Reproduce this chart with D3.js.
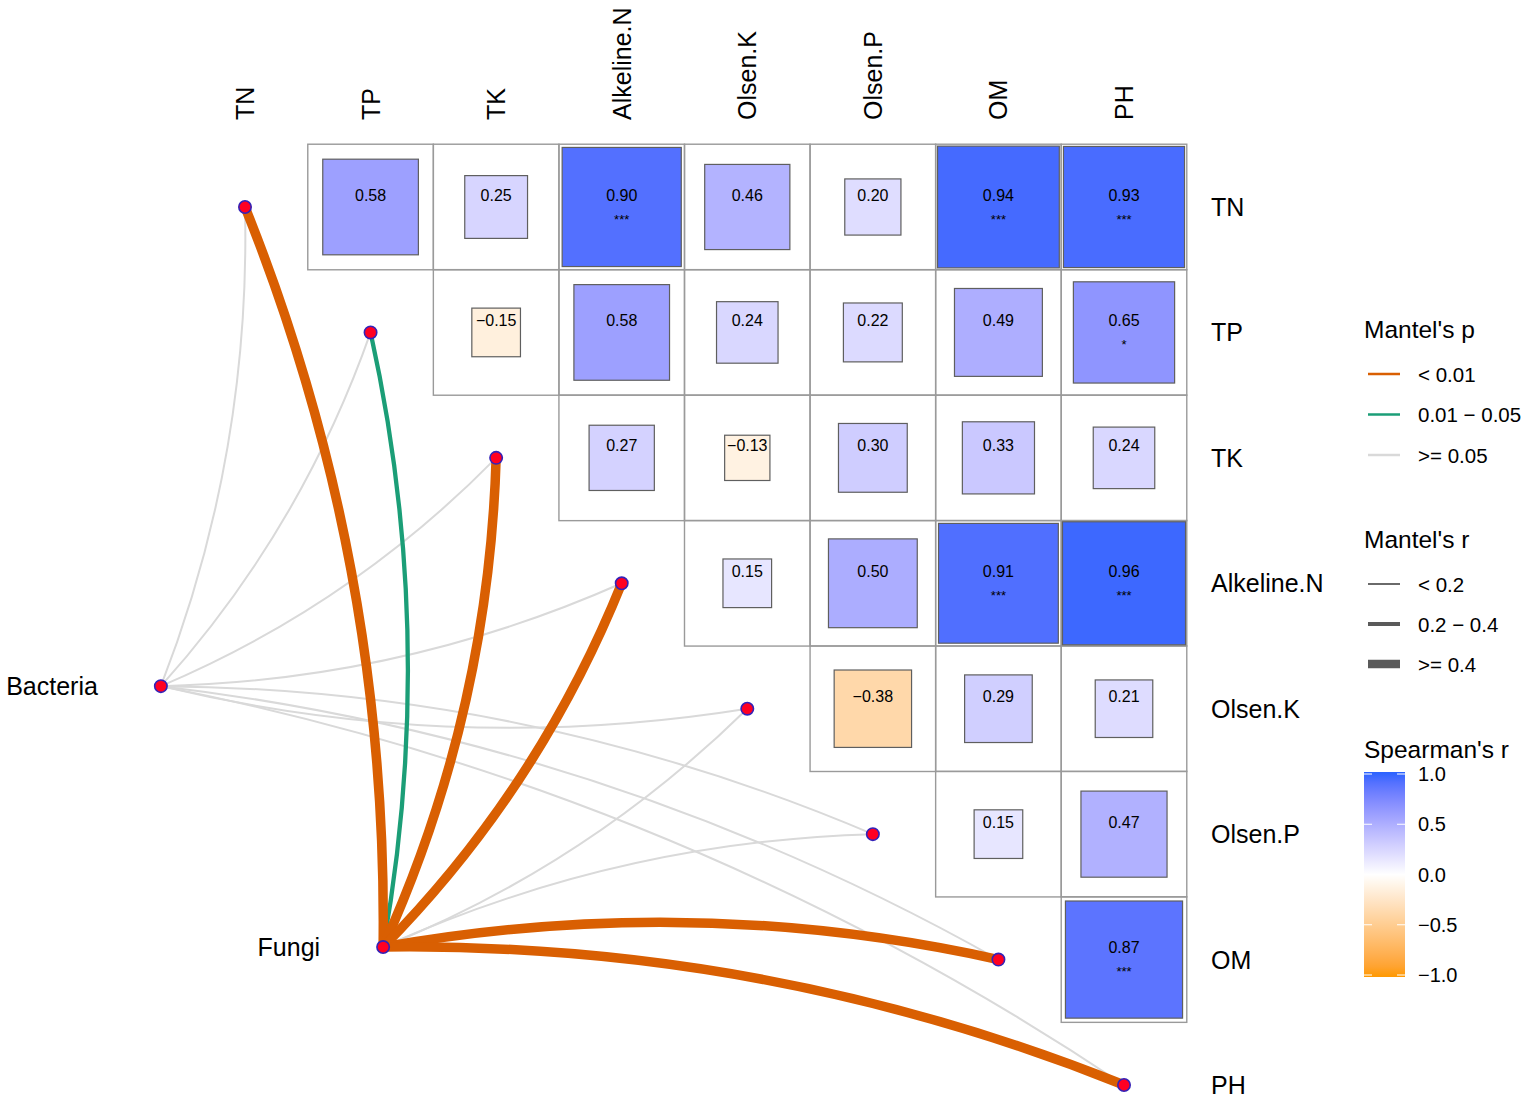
<!DOCTYPE html>
<html>
<head>
<meta charset="utf-8">
<script src="https://cdn.jsdelivr.net/npm/d3@7"></script>
<style>
  body { margin: 0; background: #fff; }
  text { font-family: "Liberation Sans", Arial, sans-serif; fill: #000; }
</style>
</head>
<body>
<svg></svg>
<script>
const width = 1536, height = 1106
var svg = d3.select("svg")
    .attr("width", width)
    .attr("height", height);

// environmental variables (matrix rows / columns)
const env = ["TN", "TP", "TK", "Alkeline.N", "Olsen.K", "Olsen.P", "OM", "PH"];

// Spearman's r, upper triangle, row i holds columns i+1 .. 7
const corrR = [
    [0.58, 0.25, 0.90, 0.46, 0.20, 0.94, 0.93],
    [-0.15, 0.58, 0.24, 0.22, 0.49, 0.65],
    [0.27, -0.13, 0.30, 0.33, 0.24],
    [0.15, 0.50, 0.91, 0.96],
    [-0.38, 0.29, 0.21],
    [0.15, 0.47],
    [0.87]
];
const corrSig = [
    ["", "", "***", "", "", "***", "***"],
    ["", "", "", "", "", "*"],
    ["", "", "", "", ""],
    ["", "", "***", "***"],
    ["", "", ""],
    ["", ""],
    ["***"]
];

// species groups, placed in grid units (column, row)
const specNames = ["Bacteria", "Fungi"];
const specCol = [-0.67, 1.10];
const specRow = [3.82, 5.90];

// Mantel test classes for each group vs env
const mantelP = [
    [">= 0.05", ">= 0.05", ">= 0.05", ">= 0.05", ">= 0.05", ">= 0.05", ">= 0.05", ">= 0.05"],
    ["< 0.01", "0.01 - 0.05", "< 0.01", "< 0.01", ">= 0.05", ">= 0.05", "< 0.01", "< 0.01"]
];
const mantelR = [
    ["< 0.2", "< 0.2", "< 0.2", "< 0.2", "< 0.2", "< 0.2", "< 0.2", "< 0.2"],
    [">= 0.4", "0.2 - 0.4", ">= 0.4", ">= 0.4", "< 0.2", "< 0.2", ">= 0.4", ">= 0.4"]
];

const pLevels = ["< 0.01", "0.01 - 0.05", ">= 0.05"];
const rLevels = ["< 0.2", "0.2 - 0.4", ">= 0.4"];
const barTicks = [1.0, 0.5, 0.0, -0.5, -1.0];

const pColor = d3.scaleOrdinal().domain(pLevels).range(["#D95F02", "#1B9E77", "#D9D9D9"]);
const rWidth = d3.scaleOrdinal().domain(rLevels).range([2, 4.3, 9.5]);
const fill = d3.scaleLinear().domain([-1, 0, 1])
    .range(["#FF9900", "#FFFFFF", "#2962FF"])
    .interpolate(d3.interpolateLab);

const x = d3.scaleLinear().domain([0, 7]).range([245, 1124]);
const y = d3.scaleLinear().domain([0, 7]).range([207, 1085]);
const cell = x(1) - x(0);
const minus = s => s.replace("-", "\u2212");

// links first (grey under coloured)
const links = [];
specNames.forEach((s, i) => {
    env.forEach((e, j) => {
        links.push({
            x1: x(specCol[i]), y1: y(specRow[i]),
            x2: x(j), y2: y(j),
            p: mantelP[i][j], r: mantelR[i][j],
            k: j <= 4 ? 0.1 : -0.1
        });
    });
});
const order = {">= 0.05": 0, "0.01 - 0.05": 1, "< 0.01": 2};
links.sort((a, b) => order[a.p] - order[b.p]);

svg.append("g").selectAll("path")
    .data(links)
    .enter()
    .append("path")
    .attr("d", d => {
        const dx = d.x2 - d.x1, dy = d.y2 - d.y1;
        const cx = (d.x1 + d.x2) / 2 - d.k * dy;
        const cy = (d.y1 + d.y2) / 2 + d.k * dx;
        return `M${d.x1},${d.y1}Q${cx},${cy} ${d.x2},${d.y2}`;
    })
    .attr("fill", "none")
    .attr("stroke", d => pColor(d.p))
    .attr("stroke-width", d => rWidth(d.r));

// grid cells and squares
const cells = [];
corrR.forEach((row, i) => row.forEach((v, k) => {
    cells.push({row: i, col: i + 1 + k, r: v, sig: corrSig[i][k]});
}));

const g = svg.append("g");
g.selectAll("rect.cell")
    .data(cells)
    .enter()
    .append("rect")
    .attr("class", "cell")
    .attr("x", d => x(d.col) - cell / 2)
    .attr("y", d => y(d.row) - cell / 2)
    .attr("width", cell)
    .attr("height", cell)
    .attr("fill", "none")
    .attr("stroke", "#9a9a9a")
    .attr("stroke-width", 1.4);

g.selectAll("rect.sq")
    .data(cells)
    .enter()
    .append("rect")
    .attr("class", "sq")
    .attr("x", d => x(d.col) - cell * Math.sqrt(Math.abs(d.r)) / 2)
    .attr("y", d => y(d.row) - cell * Math.sqrt(Math.abs(d.r)) / 2)
    .attr("width", d => cell * Math.sqrt(Math.abs(d.r)))
    .attr("height", d => cell * Math.sqrt(Math.abs(d.r)))
    .attr("fill", d => fill(d.r))
    .attr("stroke", "#5f5f5f")
    .attr("stroke-width", 1.2);

g.selectAll("text.val")
    .data(cells)
    .enter()
    .append("text")
    .attr("class", "val")
    .attr("x", d => x(d.col))
    .attr("y", d => y(d.row) - 12)
    .attr("text-anchor", "middle")
    .attr("dominant-baseline", "central")
    .attr("font-size", 16)
    .text(d => minus(d3.format(".2f")(d.r)));

g.selectAll("text.sig")
    .data(cells.filter(d => d.sig))
    .enter()
    .append("text")
    .attr("class", "sig")
    .attr("x", d => x(d.col))
    .attr("y", d => y(d.row) + 12)
    .attr("text-anchor", "middle")
    .attr("dominant-baseline", "central")
    .attr("font-size", 13)
    .text(d => d.sig);

// axis labels
svg.append("g").selectAll("text")
    .data(env)
    .enter()
    .append("text")
    .attr("transform", (d, i) => `translate(${x(i)},120) rotate(-90)`)
    .attr("dominant-baseline", "central")
    .attr("font-size", 25)
    .text(d => d);

svg.append("g").selectAll("text")
    .data(env)
    .enter()
    .append("text")
    .attr("x", 1211)
    .attr("y", (d, i) => y(i))
    .attr("dominant-baseline", "central")
    .attr("font-size", 25)
    .text(d => d);

// nodes
const nodes = env.map((e, j) => ({x: x(j), y: y(j)}))
    .concat(specNames.map((s, i) => ({x: x(specCol[i]), y: y(specRow[i])})));
svg.append("g").selectAll("circle")
    .data(nodes)
    .enter()
    .append("circle")
    .attr("cx", d => d.x)
    .attr("cy", d => d.y)
    .attr("r", 6.2)
    .attr("fill", "#FF0022")
    .attr("stroke", "#3322B8")
    .attr("stroke-width", 1.6);

svg.append("g").selectAll("text")
    .data(specNames)
    .enter()
    .append("text")
    .attr("x", (d, i) => x(specCol[i]) - 63)
    .attr("y", (d, i) => y(specRow[i]))
    .attr("text-anchor", "end")
    .attr("dominant-baseline", "central")
    .attr("font-size", 25)
    .text(d => d);

// legends
const lg = svg.append("g").attr("transform", "translate(1364,0)");
lg.append("text").attr("x", 0).attr("y", 329).attr("dominant-baseline", "central")
    .attr("font-size", 24.5).text("Mantel's p");
pLevels.forEach((p, i) => {
    const yy = 374 + i * 40.5;
    lg.append("line").attr("x1", 4).attr("x2", 36).attr("y1", yy).attr("y2", yy)
        .attr("stroke", pColor(p)).attr("stroke-width", 2.5);
    lg.append("text").attr("x", 54).attr("y", yy).attr("dominant-baseline", "central")
        .attr("font-size", 20.5).text(minus(p));
});

lg.append("text").attr("x", 0).attr("y", 539).attr("dominant-baseline", "central")
    .attr("font-size", 24.5).text("Mantel's r");
rLevels.forEach((r, i) => {
    const yy = 584 + i * 40;
    lg.append("line").attr("x1", 4).attr("x2", 36).attr("y1", yy).attr("y2", yy)
        .attr("stroke", "#5a5a5a").attr("stroke-width", [1.8, 4, 8.5][i]);
    lg.append("text").attr("x", 54).attr("y", yy).attr("dominant-baseline", "central")
        .attr("font-size", 20.5).text(minus(r));
});

lg.append("text").attr("x", 0).attr("y", 749).attr("dominant-baseline", "central")
    .attr("font-size", 24.5).text("Spearman's r");

const barY = d3.scaleLinear().domain([-1, 1]).range([975, 774]);
const grad = svg.append("defs").append("linearGradient")
    .attr("id", "spear").attr("x1", 0).attr("x2", 0).attr("y1", 1).attr("y2", 0);
d3.range(-1, 1.001, 0.1).forEach(v => {
    grad.append("stop").attr("offset", (v + 1) / 2).attr("stop-color", fill(Math.min(1, v)));
});
lg.append("rect").attr("x", 0).attr("y", barY(1) - 2).attr("width", 41)
    .attr("height", barY(-1) - barY(1) + 4).attr("fill", "url(#spear)");
barTicks.forEach(v => {
    lg.append("line").attr("x1", 0).attr("x2", 8).attr("y1", barY(v)).attr("y2", barY(v))
        .attr("stroke", "#fff").attr("stroke-width", 1);
    lg.append("line").attr("x1", 33).attr("x2", 41).attr("y1", barY(v)).attr("y2", barY(v))
        .attr("stroke", "#fff").attr("stroke-width", 1);
    lg.append("text").attr("x", 54).attr("y", barY(v)).attr("dominant-baseline", "central")
        .attr("font-size", 20).text(minus(d3.format(".1f")(v)));
});
</script>
</body>
</html>
